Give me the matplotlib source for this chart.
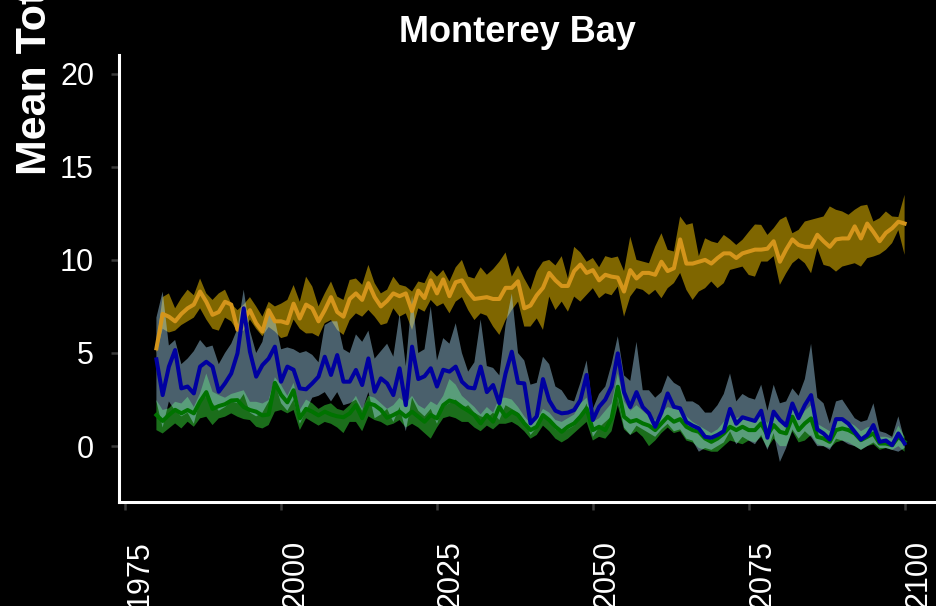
import numpy as np
import matplotlib
matplotlib.use("Agg")
import matplotlib.pyplot as plt
from matplotlib.transforms import ScaledTranslation

plt.rcParams['font.family'] = ['Liberation Sans', 'DejaVu Sans']

years = list(range(1980, 2101))

gold_mean = [5.25, 7.1, 6.95, 6.7, 7.1, 7.4, 7.6, 8.3, 7.75, 7.05, 7.2, 7.75, 7.6, 6.25, 6.8, 7.3, 6.6, 6.15, 7.3, 6.7, 6.7, 6.6, 7.65, 6.85, 7.6,
             7.4, 6.7, 7.3, 8.0, 7.2, 6.95, 7.9, 8.2, 7.85, 8.75, 8.0, 7.5, 7.8, 8.2, 8.05, 8.2, 7.25, 8.35, 7.95, 8.9, 8.2, 8.95, 8.05, 8.8, 8.9,
             8.3, 7.9, 7.95, 8.0, 7.9, 7.9, 8.5, 8.5, 8.85, 7.4, 7.55, 8.1, 8.5, 9.3, 8.9, 8.6, 8.6, 9.4, 9.75, 9.3, 9.45, 8.9, 9.2, 9.1,
             9.05, 8.3, 9.45, 9.0, 9.3, 9.3, 9.2, 9.9, 9.4, 9.55, 11.1, 9.8, 9.8, 9.9, 10.0, 9.8, 10.1, 10.35, 10.35, 10.1, 10.35, 10.45, 10.55,
             10.55, 10.6, 11.0, 9.9, 10.55, 11.1, 10.8, 10.7, 10.7, 11.35, 11.0, 10.7, 11.1, 11.15, 11.15, 11.8, 11.15, 11.95, 11.5, 11.0, 11.45, 11.7, 12.05, 11.95]
gold_hi = [5.5, 8.0, 8.2, 7.4, 7.95, 8.4, 8.1, 9.0, 8.2, 7.85, 8.2, 8.4, 7.65, 7.3, 7.6, 8.0, 7.5, 6.95, 7.75, 7.5, 7.65, 7.85, 8.65, 7.75, 9.1,
           8.57, 7.5, 8.2, 8.84, 8.03, 7.85, 8.92, 9.0, 8.66, 9.73, 8.75, 8.2, 8.4, 9.1, 8.66, 8.57, 8.3, 8.84, 8.75, 9.46, 9.1, 9.46, 8.84, 9.6, 10.0,
           9.1, 9.0, 9.6, 9.2, 9.5, 9.9, 10.4, 9.1, 9.7, 9.0, 8.4, 9.4, 9.9, 10.0, 9.7, 10.2, 9.0, 10.7, 10.4, 9.9, 10.1, 9.6, 10.2, 10.1,
           10.18, 9.4, 11.25, 10.0, 9.91, 9.82, 10.72, 11.43, 10.54, 10.45, 12.33, 11.88, 11.97, 10.2, 11.16, 10.99, 10.9, 11.34, 11.1, 10.8, 11.08, 11.5, 11.9,
           11.88, 11.34, 11.7, 12.15, 12.33, 11.43, 11.61, 12.06, 12.15, 12.24, 12.33, 12.87, 12.69, 12.6, 12.42, 12.69, 12.9, 12.96, 12.06, 12.24, 12.6, 12.33, 12.3, 13.49]
gold_lo = [5.0, 6.3, 6.1, 6.2, 6.5, 6.7, 6.9, 7.4, 6.8, 6.3, 6.2, 6.9, 6.7, 6.15, 6.2, 6.8, 6.3, 5.9, 6.4, 6.15, 5.8, 5.9, 6.8, 6.3, 6.05,
           6.06, 5.88, 6.6, 6.77, 6.24, 5.97, 6.77, 7.13, 6.95, 7.31, 6.95, 6.5, 6.6, 7.4, 6.95, 7.13, 6.24, 7.4, 7.22, 7.85, 7.5, 7.67, 7.13, 7.76, 8.0,
           7.3, 6.77, 7.13, 7.0, 6.42, 5.97, 6.77, 7.31, 7.76, 6.42, 6.42, 6.86, 6.24, 8.03, 7.31, 7.76, 7.22, 8.03, 7.76, 8.12, 8.48, 7.94, 8.21, 8.1,
           8.57, 6.95, 8.03, 8.48, 8.39, 8.12, 8.39, 7.94, 8.48, 8.75, 9.3, 8.39, 7.85, 8.3, 8.48, 8.84, 8.48, 8.75, 9.46, 9.55, 9.64, 9.19, 9.1,
           9.91, 9.91, 10.2, 8.66, 9.28, 9.82, 10.09, 9.82, 9.28, 10.63, 9.73, 9.64, 9.37, 9.64, 9.73, 9.82, 9.64, 10.09, 10.18, 10.3, 10.54, 10.9, 11.6, 10.27]

blue_mean = [4.66, 2.74, 4.27, 5.16, 3.1, 3.2, 2.83, 4.27, 4.53, 4.27, 2.92, 3.37, 3.9, 4.98, 7.4, 5.07, 3.73, 4.35, 4.7, 5.34, 3.46, 4.27, 4.1, 3.1, 3.05,
             3.37, 3.73, 4.8, 3.82, 4.89, 3.46, 3.46, 4.09, 3.28, 4.71, 2.92, 3.64, 3.37, 2.74, 4.18, 2.2, 5.34, 3.6, 3.75, 4.18, 3.2, 4.1, 4.0, 4.27, 3.46,
             3.15, 3.1, 4.27, 2.9, 3.28, 2.3, 3.9, 5.07, 3.4, 3.37, 1.22, 1.6, 3.6, 2.45, 1.9, 1.76, 1.8, 1.94, 2.47, 3.82, 1.4, 2.11, 2.5, 3.2,
             4.98, 2.9, 2.1, 2.9, 2.1, 1.76, 1.04, 1.8, 2.83, 2.11, 2.03, 1.3, 1.1, 0.95, 0.5, 0.45, 0.6, 0.8, 2.0, 1.2, 1.55, 1.45, 1.35,
             1.9, 0.45, 1.85, 1.4, 1.1, 2.29, 1.5, 2.2, 2.74, 0.9, 0.68, 0.35, 1.45, 1.45, 1.2, 0.77, 0.35, 0.59, 1.13, 0.23, 0.3, 0.05, 0.68, 0.14]
blue_hi = [6.9, 8.3, 5.4, 5.7, 4.4, 4.7, 5.1, 5.7, 5.3, 5.4, 4.4, 5.0, 5.5, 6.3, 8.4, 6.2, 5.0, 5.6, 7.2, 6.8, 5.2, 5.3, 5.2, 5.0, 5.1,
           4.9, 4.5, 6.5, 6.7, 6.7, 5.2, 5.0, 6.0, 5.6, 6.2, 4.7, 5.1, 5.5, 4.8, 7.1, 4.3, 8.1, 5.0, 5.2, 7.5, 4.6, 5.8, 5.5, 6.6, 5.0,
           4.0, 4.5, 6.8, 4.3, 4.2, 3.8, 6.5, 8.2, 5.0, 4.6, 3.3, 3.4, 4.8, 4.4, 3.2, 3.0, 2.5, 2.4, 3.4, 4.6, 2.0, 2.8, 3.2, 4.4,
           5.9, 3.8, 3.5, 5.6, 3.0, 3.0, 2.6, 2.9, 3.8, 3.4, 3.2, 2.4, 2.4, 2.2, 1.8, 1.8, 2.2, 2.8, 3.9, 2.4, 2.8, 2.6, 2.5,
           3.3, 1.9, 3.3, 2.3, 2.4, 3.1, 2.7, 3.6, 5.5, 2.6, 2.3, 1.2, 2.4, 2.5, 2.0, 1.5, 1.3, 1.4, 2.3, 0.8, 0.7, 0.5, 1.6, 0.3]
blue_lo = [2.4, 1.0, 2.4, 1.9, 1.6, 1.8, 1.2, 2.5, 2.65, 2.3, 1.9, 2.1, 2.4, 2.3, 2.8, 1.8, 1.6, 1.8, 2.4, 3.4, 2.3, 1.9, 2.5, 1.2, 1.9,
           2.6, 2.7, 2.9, 2.4, 2.9, 2.2, 2.3, 2.5, 1.9, 2.9, 1.5, 1.7, 2.0, 1.3, 2.1, 0.8, 2.6, 1.9, 1.6, 2.0, 1.2, 2.1, 2.3, 2.5, 2.0,
           2.2, 1.8, 1.6, 1.5, 1.8, 1.4, 2.2, 2.0, 1.8, 1.4, 0.6, 1.0, 1.7, 1.3, 0.9, 0.7, 0.9, 1.1, 1.5, 2.3, 0.5, 1.0, 1.3, 1.6,
           2.6, 1.0, 0.6, 1.1, 0.9, 0.7, 0.5, 0.9, 1.2, 0.8, 0.9, 0.4, 0.3, -0.3, -0.1, -0.2, 0.0, 0.2, 0.8, 0.1, 0.5, 0.3, 0.1,
           0.6, -0.2, 0.7, -0.85, -0.1, 0.9, 0.4, 0.8, 0.5, 0.0, 0.0, -0.2, 0.4, 0.3, 0.1, 0.0, -0.2, 0.0, 0.2, -0.1, -0.1, -0.2, -0.3, -0.1]

green_mean = [1.67, 1.35, 1.67, 1.95, 1.76, 1.94, 1.76, 2.4, 2.9, 2.0, 2.15, 2.25, 2.45, 2.47, 2.1, 1.94, 1.85, 1.65, 1.7, 3.4, 2.75, 2.35, 3.0, 1.49, 2.0,
              1.85, 1.65, 1.85, 1.7, 1.6, 1.55, 1.76, 2.2, 1.5, 2.3, 2.2, 1.95, 1.52, 1.67, 1.85, 1.58, 1.85, 1.58, 1.31, 1.67, 1.49, 2.2, 2.45, 2.35, 2.1,
              1.9, 1.67, 1.22, 1.67, 1.31, 2.11, 1.58, 1.85, 1.67, 1.22, 0.86, 1.04, 1.67, 1.4, 1.04, 0.77, 1.04, 1.22, 1.58, 2.03, 0.86, 1.04, 0.86, 1.49,
              3.19, 1.58, 1.31, 1.4, 1.22, 1.1, 0.86, 1.22, 1.58, 1.31, 1.45, 1.04, 0.86, 0.77, 0.41, 0.23, 0.41, 0.68, 1.04, 0.86, 1.04, 0.86, 0.86,
              1.22, 0.59, 1.13, 0.77, 0.68, 1.58, 0.86, 1.22, 1.49, 0.5, 0.41, 0.23, 0.86, 0.95, 0.86, 0.68, 0.32, 0.5, 0.68, 0.14, 0.14, 0.05, 0.5, 0.23]
green_hi = [2.47, 1.94, 2.03, 2.38, 2.29, 2.65, 2.1, 2.83, 3.9, 2.92, 2.74, 2.6, 2.8, 2.9, 3.0, 2.38, 2.38, 2.29, 2.47, 3.7, 3.28, 2.7, 3.4, 1.94, 2.5,
            2.3, 2.0, 2.2, 2.3, 2.0, 1.9, 2.2, 2.7, 2.0, 2.7, 2.6, 2.3, 2.0, 2.2, 2.6, 2.3, 2.7, 2.2, 2.0, 2.4, 2.2, 2.7, 3.6, 3.3, 2.7,
            2.4, 2.1, 1.7, 2.1, 1.8, 2.6, 2.6, 2.5, 2.1, 1.6, 1.2, 1.4, 2.0, 1.8, 1.4, 1.3, 1.5, 1.7, 2.3, 2.6, 1.3, 1.5, 1.9, 2.3,
            3.9, 2.4, 1.9, 2.2, 1.9, 1.6, 1.4, 1.8, 2.1, 2.0, 2.0, 1.6, 1.3, 1.1, 0.9, 0.7, 0.9, 1.3, 1.7, 1.5, 1.6, 1.5, 1.3,
            1.8, 1.2, 1.8, 1.4, 1.2, 2.1, 1.4, 1.9, 2.2, 1.2, 1.0, 0.8, 1.5, 1.4, 1.3, 1.1, 0.8, 1.0, 1.1, 0.5, 0.5, 0.4, 1.1, 0.5]
green_lo = [0.86, 0.68, 0.95, 1.22, 0.95, 1.31, 1.04, 1.49, 1.58, 1.13, 1.49, 1.58, 1.76, 1.58, 1.45, 1.4, 1.04, 0.95, 1.13, 1.85, 1.94, 1.76, 1.94, 0.86, 1.5,
            1.3, 1.1, 1.3, 1.2, 1.0, 0.7, 1.3, 1.3, 0.8, 1.6, 1.4, 1.3, 1.1, 1.2, 1.4, 1.0, 1.2, 1.0, 0.7, 0.4, 1.0, 1.5, 1.6, 1.5, 1.3,
            1.3, 1.0, 0.8, 1.1, 0.9, 1.2, 1.2, 1.3, 1.1, 0.8, 0.4, 0.6, 1.1, 0.8, 0.4, 0.2, 0.4, 0.7, 1.0, 1.3, 0.3, 0.5, 0.4, 0.8,
            2.2, 0.9, 0.6, 0.8, 0.5, 0.0, 0.3, 0.7, 1.0, 0.7, 0.8, 0.3, 0.2, -0.1, -0.2, -0.3, -0.3, 0.0, 0.3, 0.2, 0.1, 0.3, 0.2,
            0.5, -0.1, 0.4, 0.0, 0.0, 0.8, 0.2, 0.3, 0.6, 0.1, 0.0, -0.1, 0.2, 0.3, 0.2, 0.0, -0.2, 0.0, 0.1, -0.2, -0.1, -0.2, 0.0, -0.3]

x_ticks = [1975, 2000, 2025, 2050, 2075, 2100]
y_ticks = [0, 5, 10, 15, 20]

W, H = 936, 606
fig = plt.figure(figsize=(W / 100, H / 100), dpi=100, facecolor='black')
ax = fig.add_axes([119 / W, 104 / H, (942 - 119) / W, (502 - 55) / H])
ax.set_facecolor('black')

ax.fill_between(years, gold_lo, gold_hi, facecolor='#FFCC00', alpha=0.5, linewidth=0)
ax.fill_between(years, green_lo, green_hi, facecolor='#228B22', alpha=0.8, linewidth=0)
ax.fill_between(years, blue_lo, blue_hi, facecolor='#A5D7F0', alpha=0.45, linewidth=0)

ax.plot(years, gold_mean, color='#D4951B', lw=2.9, solid_joinstyle='round')
ax.plot(years, green_mean, color='#007300', lw=2.9, solid_joinstyle='round')
ax.plot(years, blue_mean, color='#0000A0', lw=2.9, solid_joinstyle='round')

ax.set_xlim(1974, 2106)
ax.set_ylim(-3, 21)
ax.set_xticks(x_ticks)
ax.set_xticklabels([str(v) for v in x_ticks], rotation=90, va='top', ha='center')
ax.set_yticks(y_ticks)
ax.set_yticklabels([str(v) for v in y_ticks])

for s in ['top', 'right']:
    ax.spines[s].set_visible(False)
for s in ['left', 'bottom']:
    ax.spines[s].set_color('white')
    ax.spines[s].set_linewidth(2.2)

ax.tick_params(axis='y', colors='#3a3a3a', labelcolor='white', labelsize=22,
               length=6, width=1.8, pad=12)
ax.tick_params(axis='x', colors='#3a3a3a', labelcolor='white', labelsize=22,
               length=5.5, width=1.8, pad=22)

offset = ScaledTranslation(14 / 100, 0, fig.dpi_scale_trans)
for lbl in ax.get_xticklabels():
    lbl.set_transform(lbl.get_transform() + offset)

fig.text(517 / W, 1 - 42 / H, 'Monterey Bay', ha='center', va='baseline',
         fontsize=26, fontweight='bold', color='white')
fig.text(55 / W, 1 - 175 / H, 'Mean Total', rotation=90, ha='right', va='bottom',
         fontsize=31, fontweight='bold', color='white')

fig.savefig('out.png', dpi=100, facecolor='black')
